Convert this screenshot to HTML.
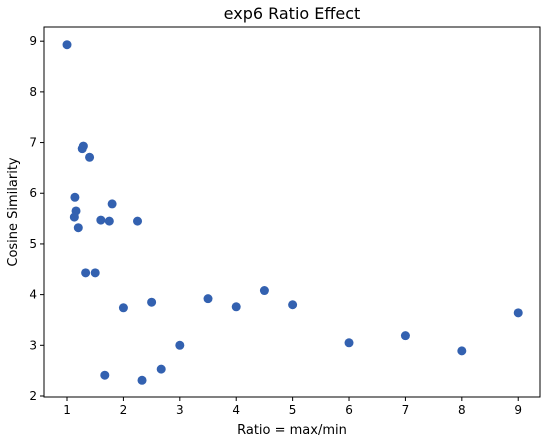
<!DOCTYPE html>
<html><head><meta charset="utf-8"><style>
body{margin:0;background:#fff;font-family:"Liberation Sans","DejaVu Sans",sans-serif;}
svg text{font-family:"DejaVu Sans","Liberation Sans",sans-serif;}
</style></head><body>
<svg id="chart" width="547" height="439" xmlns="http://www.w3.org/2000/svg"></svg>
<script>
const ratios=[1,1.14,1.16,1.13,1.2,1.27,1.29,1.4,1.33,1.5,1.6,1.75,1.8,1.67,2.0,2.25,2.33,2.5,2.67,3.0,3.5,4.0,4.5,5.0,6.0,7.0,8.0,9.0];
const similarities=[8.93,5.92,5.65,5.53,5.32,6.88,6.93,6.71,4.43,4.43,5.47,5.45,5.79,2.41,3.74,5.45,2.31,3.85,2.53,3.0,3.92,3.76,4.08,3.80,3.05,3.19,2.89,3.64];
const xTicks=[1,2,3,4,5,6,7,8,9];
const yTicks=[2,3,4,5,6,7,8,9];
const svg=document.getElementById('chart');
const NS='http://www.w3.org/2000/svg';
const L=44,R=540,T=27,B=397;
const xMin=0.592,xMax=9.386,yMin=1.98,yMax=9.28;
const xs=v=>L+(v-xMin)/(xMax-xMin)*(R-L);
const ys=v=>B-(v-yMin)/(yMax-yMin)*(B-T);
function mk(tag,attrs,parent){const e=document.createElementNS(NS,tag);for(const k in attrs)e.setAttribute(k,attrs[k]);(parent||svg).appendChild(e);return e;}
const frame=mk('rect',{x:L,y:T,width:R-L,height:B-T,fill:'none',stroke:'#000','stroke-width':1});


xTicks.forEach(t=>{
 const x=xs(t);
 const l=mk('line',{x1:x,x2:x,y1:B,y2:B+4,stroke:'#000'});
 
 
 const tx=mk('text',{x:x,y:B+17,'text-anchor':'middle','font-size':12});
 tx.textContent=t;
 
 
});
yTicks.forEach(t=>{
 const y=ys(t);
 const l=mk('line',{x1:L-4,x2:L,y1:y,y2:y,stroke:'#000'});
 
 
 const tx=mk('text',{x:L-7,y:y+4,'text-anchor':'end','font-size':12});
 tx.textContent=t;
 
 
});
ratios.forEach((r,i)=>{
 const c=mk('circle',{cx:xs(r),cy:ys(similarities[i]),r:4.5,fill:'#3361b0'});
 
 
});
const title=mk('text',{x:(L+R)/2,y:19,'text-anchor':'middle','font-size':16});
title.textContent='exp6 Ratio Effect';


const xl=mk('text',{x:(L+R)/2,y:434,'text-anchor':'middle','font-size':13});
xl.textContent='Ratio = max/min';


const yl=mk('text',{x:17,y:(T+B)/2,'text-anchor':'middle','font-size':13,transform:`rotate(-90 17 ${(T+B)/2})`});
yl.textContent='Cosine Similarity';


</script>
</body></html>
